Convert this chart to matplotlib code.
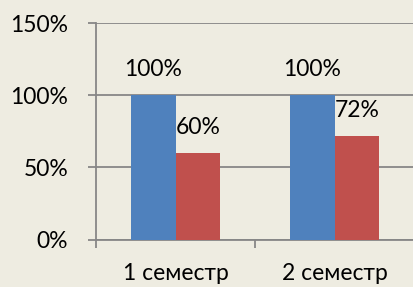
import matplotlib.pyplot as plt
import numpy as np

# data
categories = ['1 семестр', '2 семестр']
series_blue = [1.00, 1.00]
series_red = [0.60, 0.72]
blue_labels = ['100%', '100%']
red_labels = ['60%', '72%']
y_ticks = [0, 0.5, 1.0, 1.5]
y_tick_labels = ['0%', '50%', '100%', '150%']

plt.rcParams['font.family'] = ['Lato', 'DejaVu Sans']

bg = '#EEECE1'
grid_col = '#878787'
fs = 16.5

fig = plt.figure(figsize=(4.13, 2.87), dpi=100, facecolor=bg)
ax = fig.add_axes([96 / 413, 47.5 / 287, 318 / 413, 216.5 / 287])
ax.set_facecolor(bg)

x = np.arange(len(categories))
w = 0.283
ax.bar(x - w / 2, series_blue, w, color='#4F81BD', zorder=3)
ax.bar(x + w / 2, series_red, w, color='#C0504D', zorder=3)

for xi, v, t in zip(x, series_blue, blue_labels):
    ax.annotate(t, (xi - w / 2, v), xytext=(0, 15), textcoords='offset pixels',
                ha='center', va='bottom', fontsize=fs, color='black')
for xi, v, t in zip(x, series_red, red_labels):
    ax.annotate(t, (xi + w / 2, v), xytext=(0, 15), textcoords='offset pixels',
                ha='center', va='bottom', fontsize=fs, color='black')

ax.set_xlim(-0.5, 1.5)
ax.set_ylim(0, 1.5)
ax.set_yticks(y_ticks)
ax.set_yticklabels(y_tick_labels, fontsize=fs)
ax.set_xticks(x)
ax.set_xticklabels(categories, fontsize=fs)
ax.set_xticks([-0.5, 0.5, 1.5], minor=True)

ax.yaxis.grid(True, color=grid_col, linewidth=1.3, zorder=0)
ax.set_axisbelow(True)
ax.tick_params(axis='y', direction='out', length=6, width=1.3, color=grid_col, pad=14)
ax.tick_params(axis='x', which='major', length=0, pad=17)
ax.tick_params(axis='x', which='minor', direction='out', length=6, width=1.3, color=grid_col)

for s in ['top', 'right']:
    ax.spines[s].set_visible(False)
for s in ['left', 'bottom']:
    ax.spines[s].set_color(grid_col)
    ax.spines[s].set_linewidth(1.3)

fig.savefig('out.png', dpi=100, facecolor=bg)
